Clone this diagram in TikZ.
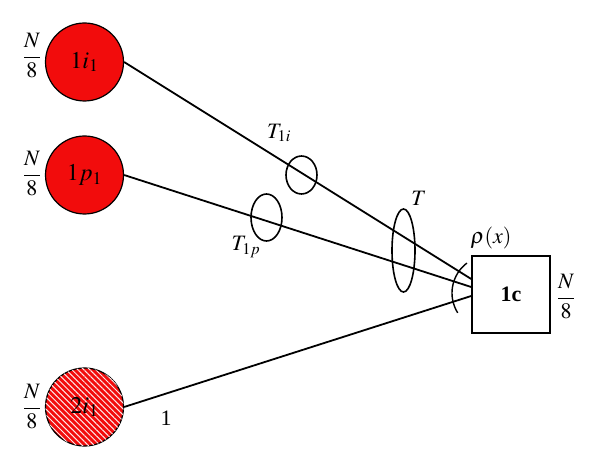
\documentclass[tikz,border=0pt]{standalone}
\usepackage{mathptmx}
\usepackage[no-math]{fontspec}
\setmainfont{Liberation Serif}
\usetikzlibrary{shapes.geometric, positioning, calc, patterns.meta}
\definecolor{nodered}{RGB}{242,12,12}

\begin{document}
\begin{tikzpicture}[
    x=1pt, y=-1pt,
    font=\fontsize{22}{26}\selectfont,
    src/.style={circle, draw, line width=1.2pt, fill=nodered, minimum size=78pt, inner sep=0pt, font=\fontsize{24}{28}\selectfont},
    hatched/.style={postaction={pattern={Lines[angle=-45, distance=4.2pt, line width=1pt]}, pattern color=white!90!nodered}},
    ring/.style={ellipse, draw, line width=1.6pt, inner sep=0pt},
    link/.style={line width=1.8pt},
    frac/.style={inner sep=1pt}
]
    \useasboundingbox (0,0) rectangle (600,470);

    % sources and collector
    \node[src] (c1) at (84.5,62) {$1i_1$};
    \node[src] (c2) at (84.5,175) {$1p_1$};
    \node[src, hatched] (c3) at (84.5,407) {$2i_1$};
    \node[draw, line width=1.6pt, minimum width=78pt, minimum height=77pt, font=\fontsize{22}{26}\selectfont\bfseries] (box) at (511,294.5) {1c};

    \draw[link] (c1.east) -- ($(box.west)+(0,-15.5)$);
    \draw[link] (c2.east) -- ($(box.west)+(0,-7.5)$);
    \draw[link] (c3.east) -- ($(box.west)+(0,1.5)$);

    % tubes round the links
    \node[ring, minimum width=31pt, minimum height=38pt] (t1i) at (301.5,175) {};
    \node[ring, minimum width=31pt, minimum height=47pt] (t1p) at (266.5,217.5) {};
    \node[ring, minimum width=23pt, minimum height=83pt] (tt) at (403.5,250.5) {};
    \coordinate (rho) at (489.5,293);
    \draw[line width=1.4pt] ([shift={(148:37.5)}]rho) arc[start angle=148, end angle=233, radius=37.5];

    % labels
    \node[frac] (n1) at (32,56) {$\displaystyle\frac{N}{8}$};
    \node[frac] (n2) at (32,174) {$\displaystyle\frac{N}{8}$};
    \node[frac] (n3) at (32,407) {$\displaystyle\frac{N}{8}$};
    \node[frac] (nc) at (566,297) {$\displaystyle\frac{N}{8}$};
    \node[inner sep=1pt] (lt1i) at (279,133) {$T_{1i}$};
    \node[inner sep=1pt] (lt1p) at (246,247) {$T_{1p}$};
    \node (lt) at (419,198) {$T$};
    \node (lrho) at (491,238) {$\rho(x)$};
    \node (lone) at (166,418) {1};
\end{tikzpicture}
\end{document}
